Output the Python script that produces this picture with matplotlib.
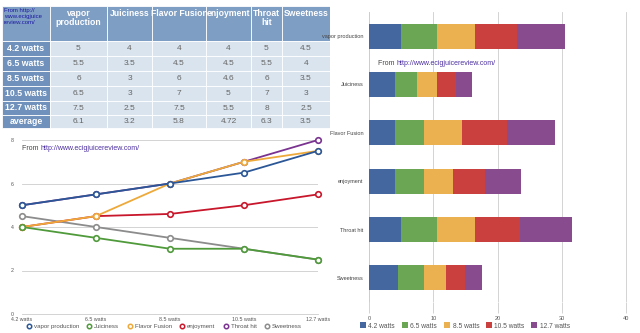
import matplotlib
matplotlib.use("Agg")
import matplotlib.pyplot as plt
from matplotlib.patches import Rectangle
from matplotlib.lines import Line2D

plt.rcParams["font.family"] = ["Liberation Sans", "DejaVu Sans"]

# ----------------- DATOS -----------------
atributos = ["vapor production", "Juiciness", "Flavor Fusion", "enjoyment", "Throat hit", "Sweetness"]
cabeceras = ["vapor\nproduction", "Juiciness", "Flavor Fusion", "enjoyment", "Throat\nhit", "Sweetness"]
potencias = ["4.2 watts", "6.5 watts", "8.5 watts", "10.5 watts", "12.7 watts"]

vapor      = [5, 5.5, 6, 6.5, 7.5]
juiciness  = [4, 3.5, 3, 3, 2.5]
flavor     = [4, 4.5, 6, 7, 7.5]
enjoyment  = [4, 4.5, 4.6, 5, 5.5]
throat     = [5, 5.5, 6, 7, 8]
sweetness  = [4.5, 4, 3.5, 3, 2.5]
promedios  = ["6.1", "3.2", "5.8", "4.72", "6.3", "3.5"]
fuente     = "http://www.ecigjuicereview.com/"
# -----------------------------------------

series = [vapor, juiciness, flavor, enjoyment, throat, sweetness]
col_linea = ["#2b5797", "#4f9a3a", "#eda93a", "#c8162b", "#7a3390", "#8c8c8c"]
col_barra = ["#44679f", "#6aa654", "#ebb04f", "#c9403f", "#874b8e"]

fig = plt.figure(figsize=(6.4, 3.33), dpi=100)
fig.patch.set_facecolor("white")


def poner_fuente(ax, x, y):
    t = ax.text(x, y, "From ", transform=ax.transAxes, fontsize=5,
                color="#444444", va="top")
    ax.annotate(fuente, xy=(1, 1), xycoords=t, va="top", ha="left",
                fontsize=5, color="#4b2fa0")


# ---------- tabla (coordenadas en pixeles) ----------
axt = fig.add_axes([0, 1 - 130 / 333, 330 / 640, 130 / 333])
axt.set_xlim(0, 330)
axt.set_ylim(130, 0)
axt.axis("off")

bordes_x = [2, 50, 107, 152, 206, 251, 282, 330]
bordes_y = [6, 41, 56, 71, 86, 101, 115, 128]
c_cab = "#7f9ec4"
c_fila = "#6f91bb"
c_cuerpo = "#d9e4ee"

filas = potencias + ["average"]
for i in range(len(bordes_y) - 1):
    for j in range(len(bordes_x) - 1):
        x0, x1 = bordes_x[j], bordes_x[j + 1]
        y0, y1 = bordes_y[i], bordes_y[i + 1]
        if i == 0:
            color = c_cab
        elif j == 0:
            color = c_fila
        else:
            color = c_cuerpo
        axt.add_patch(Rectangle((x0, y0), x1 - x0, y1 - y0, facecolor=color,
                                edgecolor="white", lw=0.6))
        cx, cy = (x0 + x1) / 2, (y0 + y1) / 2
        if i == 0 and j == 0:
            axt.text(x0 + 2, y0 + 2, "From http://\nwww.ecigjuice\nreview.com/",
                     fontsize=4.3, color="#1a1aa0", va="top", ha="left",
                     linespacing=1.2)
        elif i == 0:
            axt.text(cx, y0 + 3, cabeceras[j - 1], fontsize=6.2, color="white",
                     fontweight="bold", ha="center", va="top", linespacing=1.05)
        elif j == 0:
            axt.text(cx, cy, filas[i - 1], fontsize=6.3, color="white",
                     fontweight="bold", ha="center", va="center")
        else:
            if i <= 5:
                v = series[j - 1][i - 1]
                txt = f"{v:g}"
            else:
                txt = promedios[j - 1]
            axt.text(cx, cy, txt, fontsize=6, color="#666666",
                     ha="center", va="center")

# ---------- grafico de lineas ----------
ax1 = fig.add_axes([22 / 640, 1 - 314 / 333, 296 / 640, 174 / 333])
x = range(len(potencias))
for k in range(len(series) - 1, -1, -1):
    ax1.plot(x, series[k], color=col_linea[k], lw=1.3, marker="o", ms=4,
             mfc="white", mec=col_linea[k], mew=1.2, zorder=10 - k,
             clip_on=False)
ax1.set_ylim(0, 8)
ax1.set_xlim(0, len(potencias) - 1)
ax1.set_yticks([0, 2, 4, 6, 8])
ax1.set_xticks(list(x))
ax1.set_xticklabels(potencias)
ax1.tick_params(length=0, labelsize=3.8, labelcolor="#555555", pad=2.5)
ax1.tick_params(axis="y", pad=6)
ax1.grid(axis="y", color="#cccccc", lw=0.6)
ax1.set_axisbelow(True)
for s in ["top", "right", "left"]:
    ax1.spines[s].set_visible(False)
ax1.spines["bottom"].set_color("#cccccc")
ax1.spines["bottom"].set_linewidth(0.6)
poner_fuente(ax1, 0.0, 0.97)

marcas = [Line2D([], [], ls="none", marker="o", ms=3.2, mfc="white",
                 mec=c, mew=1.1) for c in col_linea]
fig.legend(marcas, atributos, loc="center", bbox_to_anchor=(164 / 640, 1 - 326.5 / 333),
           ncol=6, frameon=False, fontsize=4.4, handlelength=0.8,
           handletextpad=0.4, columnspacing=1.3, labelcolor="#555555")

# ---------- barras apiladas ----------
ax2 = fig.add_axes([369 / 640, 1 - 302 / 333, 257.5 / 640, 290 / 333])
ypos = list(range(len(atributos)))
izquierda = [0] * len(atributos)
for w in range(len(potencias)):
    valores = [s[w] for s in series]
    ax2.barh(ypos, valores, left=izquierda, height=0.52, color=col_barra[w],
             label=potencias[w], zorder=3)
    izquierda = [a + b for a, b in zip(izquierda, valores)]
ax2.set_ylim(len(atributos) - 0.5, -0.5)
ax2.set_xlim(0, 40.05)
ax2.set_xticks([0, 10, 20, 30, 40])
ax2.set_yticks(ypos)
ax2.set_yticklabels(atributos)
ax2.tick_params(axis="y", length=0, labelsize=4, labelcolor="#444444", pad=4)
ax2.tick_params(axis="x", length=8, color="#cccccc", width=0.6,
                labelsize=4, labelcolor="#555555", pad=2)
ax2.grid(axis="x", color="#cccccc", lw=0.6)
ax2.set_axisbelow(True)
for s in ["top", "right", "bottom"]:
    ax2.spines[s].set_visible(False)
ax2.spines["left"].set_color("#cccccc")
ax2.spines["left"].set_linewidth(0.6)
poner_fuente(ax2, 0.035, 0.835)
fig.legend(*ax2.get_legend_handles_labels(), loc="center",
           bbox_to_anchor=(465 / 640, 1 - 326 / 333), ncol=5, frameon=False,
           fontsize=4.8, handlelength=0.9, handleheight=0.9, handletextpad=0.4,
           columnspacing=1.0, labelcolor="#555555")

fig.savefig("out.png", dpi=100)
